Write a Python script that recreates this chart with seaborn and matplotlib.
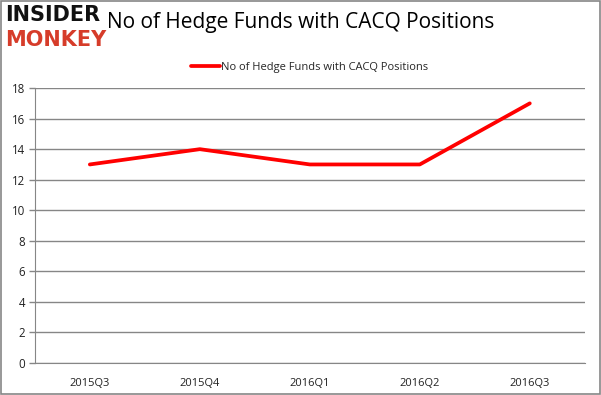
import matplotlib
matplotlib.use("Agg")
import matplotlib.pyplot as plt
import seaborn as sns
import pandas as pd
from matplotlib.patches import Rectangle

quarters = ["2015Q3", "2015Q4", "2016Q1", "2016Q2", "2016Q3"]
hedge_funds = [13, 14, 13, 13, 17]
y_ticks = [0, 2, 4, 6, 8, 10, 12, 14, 16, 18]
series_name = "No of Hedge Funds with CACQ Positions"

sns.set_style("white")
plt.rcParams["font.family"] = ["Open Sans", "DejaVu Sans"]

df = pd.DataFrame({"quarter": quarters, "funds": hedge_funds})

fig = plt.figure(figsize=(6.01, 3.95), dpi=100)
ax = fig.add_axes([0.058, 0.081, 0.915, 0.696])

sns.lineplot(data=df, x="quarter", y="funds", ax=ax, color="#ff0000",
             linewidth=2.7, label=series_name, sort=False)

ax.set_xlim(-0.5, len(quarters) - 0.5)
ax.set_ylim(0, 18)
ax.set_yticks(y_ticks)
ax.set_yticklabels([str(v) for v in y_ticks], fontsize=8.3, color="#222222")
ax.set_xticks(range(len(quarters)))
ax.set_xticklabels(quarters, fontsize=8, color="#222222")
ax.set_xticks([i - 0.5 for i in range(len(quarters) + 1)], minor=True)
ax.tick_params(axis="x", which="major", length=0, pad=11)
ax.tick_params(axis="x", which="minor", length=4, color="#868686", width=1)
ax.tick_params(axis="y", length=4, color="#868686", width=1, left=True, pad=3)
ax.set_xlabel("")
ax.set_ylabel("")

ax.grid(True, axis="y", color="#868686", linewidth=1)
for side in ["top", "right"]:
    ax.spines[side].set_visible(False)
ax.spines["left"].set_color("#868686")
ax.spines["bottom"].set_color("#868686")

ax.legend(loc="lower center", bbox_to_anchor=(0.5, 1.02), frameon=False,
          fontsize=8, handlelength=2.6, handletextpad=0.1)

fig.text(0.178, 0.944, series_name, fontsize=15, va="center", ha="left",
         color="#000000")
fig.text(0.008, 0.962, "INSIDER", fontsize=15, fontweight="black",
         va="center", ha="left", color="#111111", family="DejaVu Sans")
fig.text(0.008, 0.900, "MONKEY", fontsize=15, fontweight="black",
         va="center", ha="left", color="#d63c2a", family="DejaVu Sans")

fig.patches.append(Rectangle((0.001, 0.002), 0.997, 0.995, transform=fig.transFigure,
                             fill=False, edgecolor="#868686", linewidth=1.2))

fig.savefig("out.png", dpi=100)
